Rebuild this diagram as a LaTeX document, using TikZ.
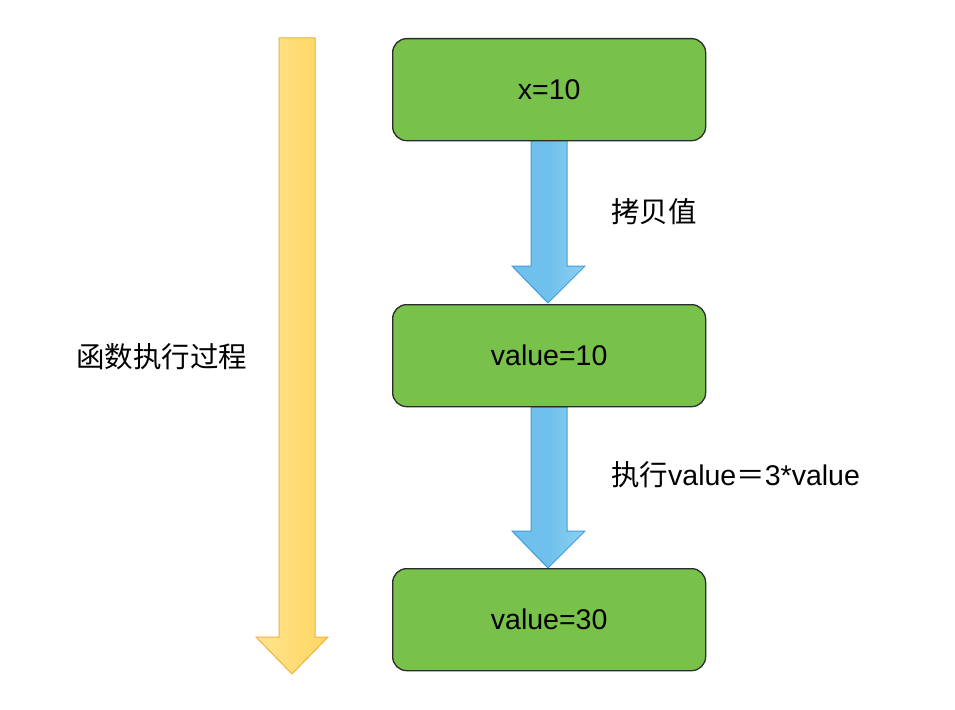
\documentclass[tikz,border=0pt]{standalone}
\usepackage{fontspec}
\setmainfont{Liberation Sans}
\newfontfamily\cjk{Noto Sans CJK SC}
\definecolor{boxgreen}{HTML}{78C14A}
\definecolor{boxedge}{HTML}{2B2B2B}
\definecolor{bluefill}{HTML}{6FC0EC}
\definecolor{bluefillL}{HTML}{8FD0F3}
\definecolor{blueedge}{HTML}{3E9FD8}
\definecolor{yelfill}{HTML}{FFD660}
\definecolor{yelfillL}{HTML}{FFE48F}
\definecolor{yeledge}{HTML}{E9B43E}
\begin{document}
\begin{tikzpicture}[x=1pt,y=-1pt,
  valbox/.style={draw=boxedge,line width=1.3pt,fill=boxgreen,rounded corners=14pt},
  bluearrow/.style={draw=blueedge,line width=1pt,left color=bluefill,right color=bluefillL,middle color=bluefill},
  yelarrow/.style={draw=yeledge,line width=1pt,left color=yelfillL,right color=yelfill},
  lbl/.style={font=\fontsize{28.5}{32}\selectfont,text=black,inner sep=0pt}]
\useasboundingbox (0,0) rectangle (955,709);
\fill[white] (0,0) rectangle (955,709);
% yellow process arrow
\draw[yelarrow] (279,38) -- (315,38) -- (315,637) -- (328,637) -- (292,674) -- (256,637) -- (279,637) -- cycle;
% blue arrows
\draw[bluearrow] (531,140) -- (567,140) -- (567,266) -- (585,266) -- (548,303) -- (512,266) -- (531,266) -- cycle;
\draw[bluearrow] (531,407) -- (567,407) -- (567,531) -- (585,531) -- (548,568) -- (512,531) -- (531,531) -- cycle;
% boxes
\node[valbox,minimum width=313pt,minimum height=102pt,anchor=north west] (b1) at (392,38) {};
\node[valbox,minimum width=313pt,minimum height=102pt,anchor=north west] (b2) at (392,304) {};
\node[valbox,minimum width=313pt,minimum height=102pt,anchor=north west] (b3) at (392,568) {};
\node[lbl] (t1) at (b1.center) {x=10};
\node[lbl] (t2) at (b2.center) {value=10};
\node[lbl] (t3) at (b3.center) {value=30};
\node[lbl,anchor=west] (c1) at (611,212) {\cjk 拷贝值};
\node[lbl,anchor=west] (c2) at (611,475) {\cjk 执行\rmfamily value\cjk ＝\rmfamily 3*value};
\node[lbl,anchor=west] (c3) at (76,357) {\cjk 函数执行过程};
\end{tikzpicture}
\end{document}
